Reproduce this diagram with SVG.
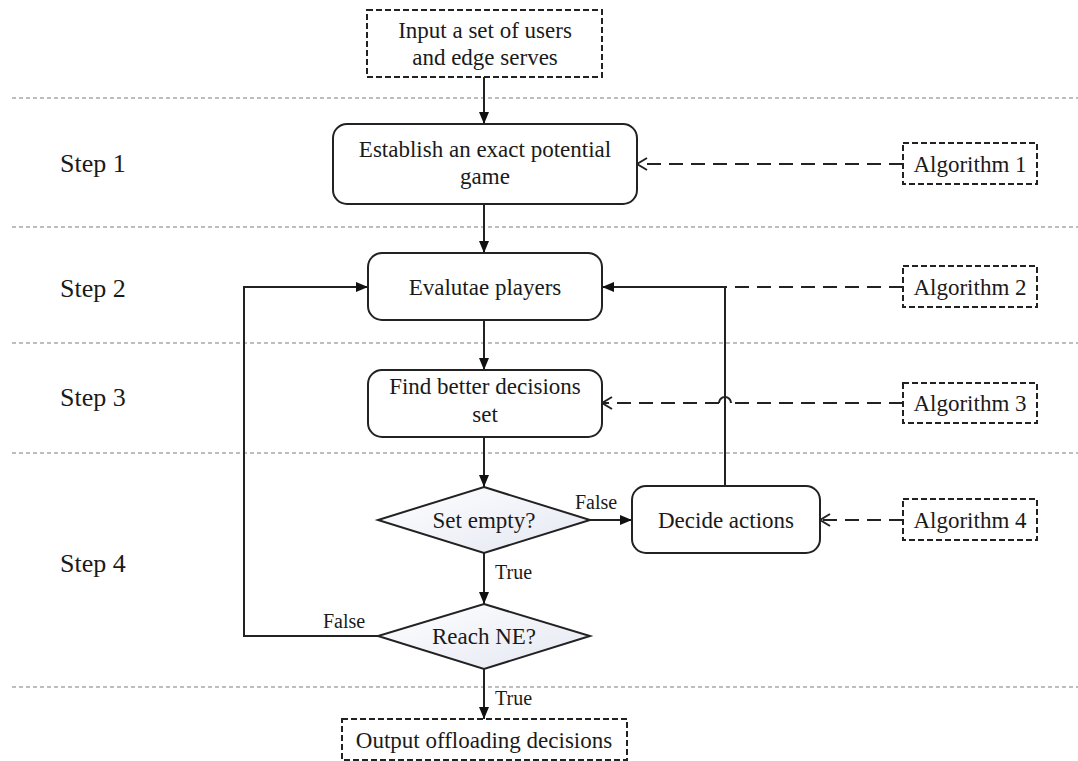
<svg xmlns="http://www.w3.org/2000/svg" width="1078" height="761" viewBox="0 0 1078 761">
<defs>
<style>
text{font-family:"Liberation Serif","Times New Roman",serif;fill:#1a1a1a}
.t{font-size:23px;text-anchor:middle}
.step{font-size:26px}
.lbl{font-size:20px}
.sep{stroke:#bdbdbd;stroke-width:2;stroke-dasharray:4 3;fill:none}
.box{fill:#fff;stroke:#222;stroke-width:2}
.dbox{fill:#fff;stroke:#222;stroke-width:2;stroke-dasharray:6 3}
.dia{fill:url(#g);stroke:#222;stroke-width:2}
.ln{stroke:#222;stroke-width:2;fill:none}
.dl{stroke:#222;stroke-width:2;fill:none;stroke-dasharray:14 8}
</style>
<linearGradient id="g" x1="0" y1="0" x2="1" y2="1">
<stop offset="0" stop-color="#ffffff"/>
<stop offset="1" stop-color="#e4e7f2"/>
</linearGradient>
<marker id="fa" viewBox="0 0 12 10" refX="12" refY="5" markerWidth="12" markerHeight="10" markerUnits="userSpaceOnUse" orient="auto">
<path d="M0,0 L12,5 L0,10 Z" fill="#111"/>
</marker>
<marker id="oa" viewBox="0 0 12 14" refX="11" refY="7" markerWidth="12" markerHeight="14" markerUnits="userSpaceOnUse" orient="auto">
<path d="M1,1 L11,7 L1,13" fill="none" stroke="#222" stroke-width="2"/>
</marker>
</defs>

<g id="separators">
<line class="sep" x1="12" y1="98" x2="1078" y2="98"/>
<line class="sep" x1="12" y1="227" x2="1078" y2="227"/>
<line class="sep" x1="12" y1="343" x2="1078" y2="343"/>
<line class="sep" x1="12" y1="453" x2="1078" y2="453"/>
<line class="sep" x1="12" y1="687" x2="1078" y2="687"/>
</g>

<g id="steps">
<text class="step" x="60" y="172">Step 1</text>
<text class="step" x="60" y="297">Step 2</text>
<text class="step" x="60" y="406">Step 3</text>
<text class="step" x="60" y="572">Step 4</text>
</g>

<g id="connectors">
<line class="ln" x1="484" y1="77" x2="484" y2="124" marker-end="url(#fa)"/>
<line class="ln" x1="484" y1="204" x2="484" y2="253" marker-end="url(#fa)"/>
<line class="ln" x1="484" y1="320" x2="484" y2="370" marker-end="url(#fa)"/>
<line class="ln" x1="484" y1="437" x2="484" y2="487" marker-end="url(#fa)"/>
<line class="ln" x1="590" y1="520" x2="632" y2="520" marker-end="url(#fa)"/>
<line class="ln" x1="484" y1="553" x2="484" y2="604" marker-end="url(#fa)"/>
<line class="ln" x1="484" y1="669" x2="484" y2="719" marker-end="url(#fa)"/>
<polyline class="ln" points="378,636 244,636 244,287 368,287" marker-end="url(#fa)"/>
<polyline class="ln" points="725,486 725,287 602,287" marker-end="url(#fa)"/>
<line class="dl" x1="903" y1="164" x2="637" y2="164" marker-end="url(#oa)"/>
<line class="dl" x1="903" y1="287" x2="725" y2="287"/>
<line class="dl" x1="903" y1="403" x2="731" y2="403"/>
<path class="ln" d="M731,403 A6,6 0 0 0 719,403"/>
<line class="dl" x1="719" y1="403" x2="602" y2="403" stroke-dasharray="13 8" marker-end="url(#oa)"/>
<line class="dl" x1="903" y1="520" x2="820" y2="520" marker-end="url(#oa)"/>
<text class="lbl" x="575" y="509">False</text>
<text class="lbl" x="495" y="579">True</text>
<text class="lbl" x="323" y="628">False</text>
<text class="lbl" x="495" y="705">True</text>
</g>

<g id="input">
<rect class="dbox" x="367" y="10" width="235" height="67"/>
<text class="t" x="485" y="38">Input a set of users</text>
<text class="t" x="485" y="65">and edge serves</text>
</g>

<g id="step1-node">
<rect class="box" x="333" y="124" width="304" height="80" rx="14"/>
<text class="t" x="485" y="157">Establish an exact potential</text>
<text class="t" x="485" y="184">game</text>
</g>

<g id="evaluate">
<rect class="box" x="368" y="253" width="234" height="67" rx="14"/>
<text class="t" x="485" y="295">Evalutae players</text>
</g>

<g id="find">
<rect class="box" x="368" y="370" width="234" height="67" rx="14"/>
<text class="t" x="485" y="394">Find better decisions</text>
<text class="t" x="485" y="422">set</text>
</g>

<g id="set-empty">
<polygon class="dia" points="484,487 590,520 484,553 378,520"/>
<text class="t" x="484" y="528">Set empty?</text>
</g>

<g id="decide">
<rect class="box" x="632" y="486" width="188" height="67" rx="14"/>
<text class="t" x="726" y="528">Decide actions</text>
</g>

<g id="reach-ne">
<polygon class="dia" points="484,604 590,636 484,669 378,636"/>
<text class="t" x="484" y="644">Reach NE?</text>
</g>

<g id="output">
<rect class="dbox" x="342" y="719" width="285" height="41"/>
<text class="t" x="484" y="748">Output offloading decisions</text>
</g>

<g id="alg1"><rect class="dbox" x="903" y="143" width="134" height="41"/><text class="t" x="970" y="172">Algorithm 1</text></g>
<g id="alg2"><rect class="dbox" x="903" y="266" width="134" height="41"/><text class="t" x="970" y="295">Algorithm 2</text></g>
<g id="alg3"><rect class="dbox" x="903" y="383" width="134" height="40"/><text class="t" x="970" y="411">Algorithm 3</text></g>
<g id="alg4"><rect class="dbox" x="903" y="499" width="134" height="41"/><text class="t" x="970" y="528">Algorithm 4</text></g>
</svg>
